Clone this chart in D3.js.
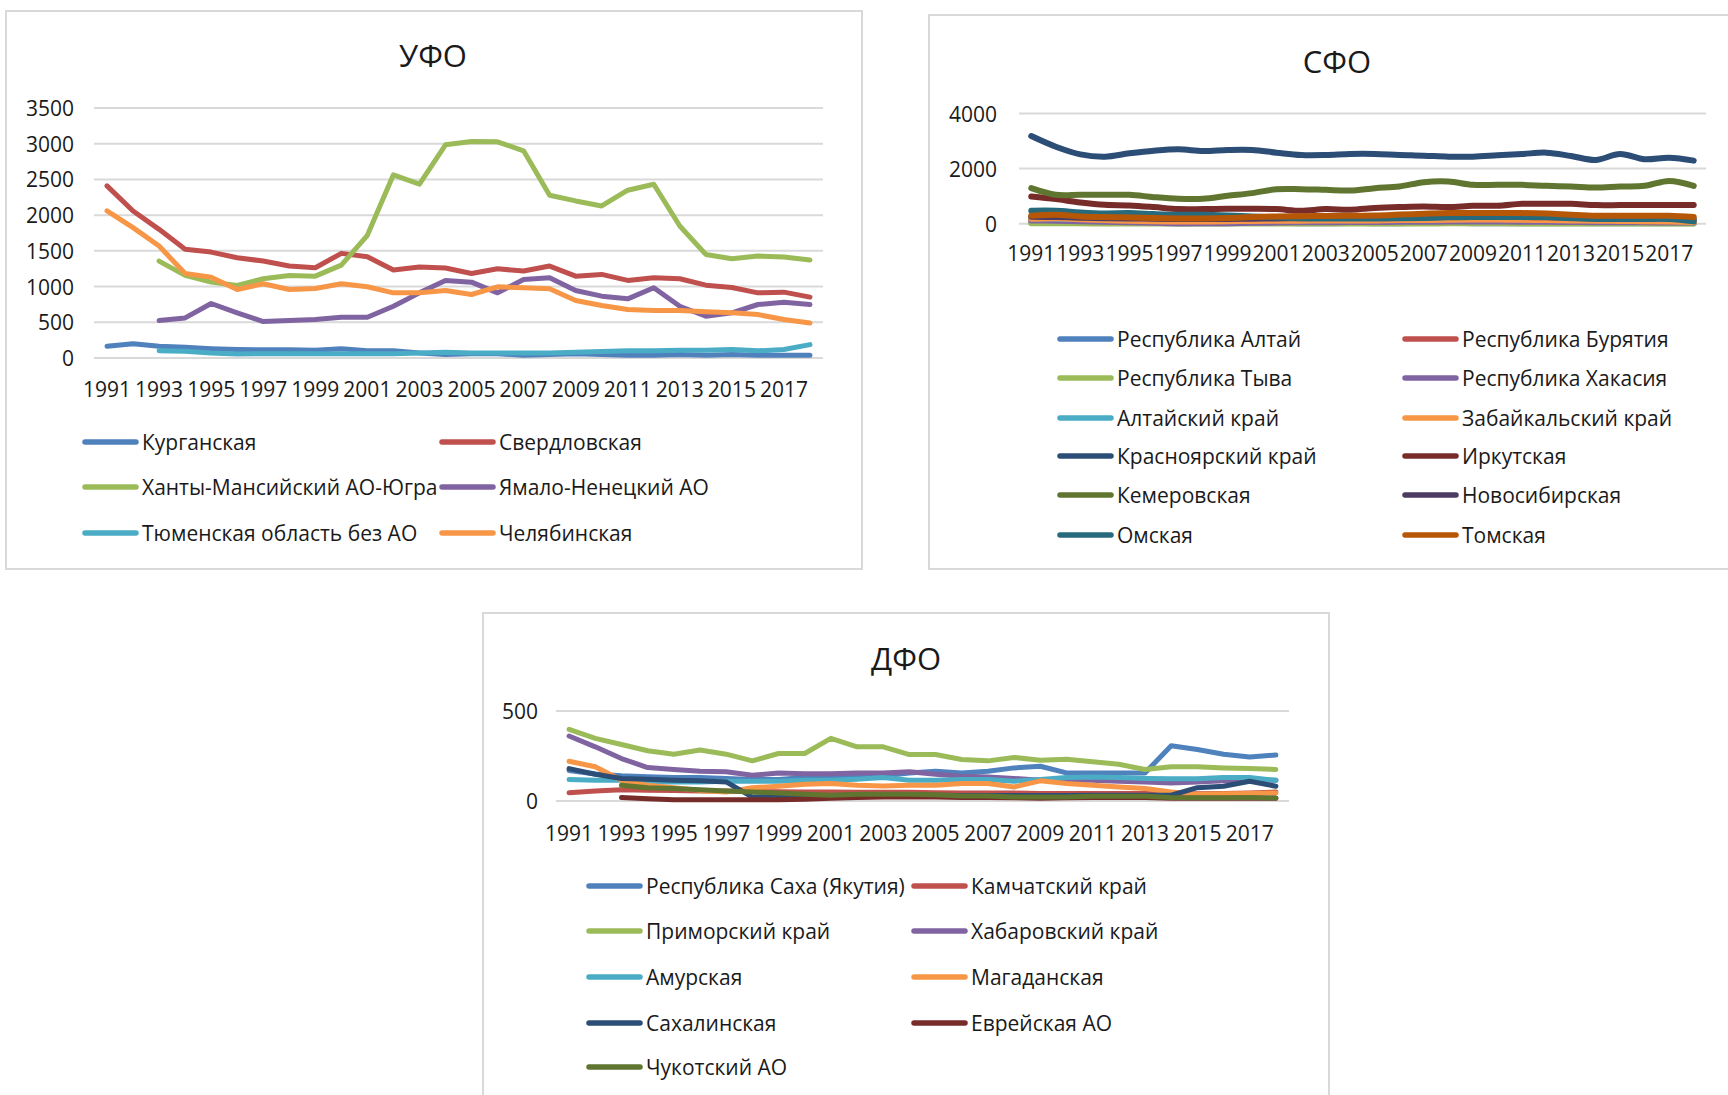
<!DOCTYPE html>
<html>
<head>
<meta charset="utf-8">
<script src="https://cdnjs.cloudflare.com/ajax/libs/d3/7.8.5/d3.min.js"></script>
<style>
  body { margin: 0; background: #fff; }
  svg text { font-family: "Open Sans", sans-serif; fill: #1a1a1a; }
</style>
</head>
<body>
<div id="svg"></div>
<script>
var years = [1991, 1992, 1993, 1994, 1995, 1996, 1997, 1998, 1999, 2000,
    2001, 2002, 2003, 2004, 2005, 2006, 2007, 2008, 2009, 2010,
    2011, 2012, 2013, 2014, 2015, 2016, 2017, 2018];
var yearLabels = [1991, 1993, 1995, 1997, 1999, 2001, 2003, 2005, 2007, 2009, 2011, 2013, 2015, 2017];

// УФО
var ufoKurgan = [164, 201, 164, 150, 131, 120, 115, 115, 110, 131, 100, 100, 70, 50, 60, 60, 40, 50, 60, 50, 40, 40, 50, 40, 50, 40, 40, 40];
var ufoSverdl = [2410, 2059, 1801, 1521, 1483, 1404, 1357, 1287, 1263, 1465, 1418, 1231, 1273, 1259, 1184, 1249, 1217, 1287, 1146, 1170, 1086, 1123, 1109, 1020, 987, 912, 922, 852];
var ufoKhmao = [null, null, 1357, 1156, 1062, 1015, 1109, 1156, 1146, 1300, 1717, 2564, 2433, 2985, 3032, 3027, 2901, 2279, 2199, 2129, 2349, 2433, 1848, 1450, 1390, 1427, 1413, 1371];
var ufoYanao = [null, null, 524, 561, 763, 632, 510, 524, 538, 571, 571, 725, 912, 1086, 1062, 912, 1100, 1123, 945, 866, 828, 983, 725, 585, 632, 749, 781, 749];
var ufoTyumen = [null, null, 103, 94, 70, 56, 60, 60, 60, 60, 60, 60, 70, 80, 70, 70, 70, 70, 80, 90, 100, 100, 110, 110, 120, 100, 120, 187];
var ufoChel = [2059, 1825, 1567, 1184, 1132, 959, 1039, 959, 973, 1039, 997, 912, 912, 945, 889, 997, 983, 969, 805, 735, 678, 664, 664, 646, 632, 608, 538, 491];
var ufoNames = ["Курганская", "Свердловская", "Ханты-Мансийский АО-Югра", "Ямало-Ненецкий АО", "Тюменская область без АО", "Челябинская"];

// СФО
var sfoAltaiRep = [40, 38, 35, 30, 28, 25, 22, 20, 20, 22, 22, 20, 20, 22, 20, 20, 22, 22, 20, 20, 18, 18, 18, 16, 16, 15, 15, 14];
var sfoBuryat = [150, 140, 120, 100, 90, 80, 70, 70, 75, 90, 100, 110, 110, 120, 125, 130, 140, 150, 150, 145, 140, 130, 120, 110, 100, 95, 90, 80];
var sfoTyva = [15, 15, 12, 10, 10, 8, 8, 8, 8, 10, 10, 10, 10, 10, 10, 10, 10, 12, 12, 12, 10, 10, 10, 8, 8, 8, 8, 8];
var sfoKhakas = [120, 110, 90, 70, 50, 30, 10, 15, 20, 30, 40, 50, 50, 60, 60, 70, 70, 80, 80, 80, 75, 70, 60, 55, 50, 50, 45, 40];
var sfoAltaiKrai = [200, 190, 170, 150, 140, 130, 120, 120, 120, 130, 140, 140, 150, 150, 160, 170, 180, 190, 190, 180, 170, 160, 150, 150, 140, 130, 130, 120];
var sfoZabaik = [180, 200, 160, 130, 110, 90, 80, 80, 90, 100, 110, 110, 120, 120, 120, 130, 130, 140, 150, 150, 140, 130, 120, 110, 100, 90, 80, 60];
var sfoKrasn = [3181, 2795, 2518, 2434, 2555, 2651, 2700, 2639, 2675, 2675, 2579, 2494, 2494, 2530, 2530, 2494, 2470, 2434, 2434, 2482, 2530, 2579, 2458, 2314, 2530, 2338, 2398, 2290];
var sfoIrk = [988, 892, 771, 687, 663, 603, 530, 530, 542, 542, 530, 470, 530, 506, 566, 603, 627, 603, 651, 651, 723, 723, 723, 675, 675, 675, 675, 675];
var sfoKemer = [1289, 1048, 1048, 1048, 1048, 964, 904, 904, 1012, 1109, 1253, 1253, 1229, 1205, 1289, 1350, 1506, 1530, 1410, 1410, 1410, 1374, 1350, 1313, 1350, 1374, 1554, 1374];
var sfoNovosib = [250, 240, 220, 200, 190, 180, 170, 170, 170, 180, 190, 200, 210, 220, 230, 240, 250, 260, 260, 250, 240, 230, 220, 210, 200, 200, 190, 170];
var sfoOmsk = [470, 470, 410, 374, 385, 350, 325, 325, 301, 265, 230, 200, 190, 190, 190, 200, 210, 230, 241, 241, 241, 241, 200, 170, 170, 170, 170, 84];
var sfoTomsk = [289, 325, 265, 241, 229, 205, 193, 193, 205, 241, 265, 270, 280, 290, 300, 330, 360, 385, 385, 385, 385, 370, 325, 289, 289, 289, 289, 241];
var sfoNames = ["Республика Алтай", "Республика Бурятия", "Республика Тыва", "Республика Хакасия", "Алтайский край", "Забайкальский край",
    "Красноярский край", "Иркутская", "Кемеровская", "Новосибирская", "Омская", "Томская"];

// ДФО
var dfoSakha = [170, 150, 140, 135, 130, 130, 125, 120, 120, 130, 134, 135, 140, 156, 165, 156, 165, 184, 193, 156, 156, 156, 156, 307, 286, 260, 245, 255];
var dfoKamch = [46, 56, 63, 60, 58, 56, 55, 54, 52, 50, 50, 48, 48, 48, 46, 45, 45, 44, 42, 42, 42, 42, 41, 40, 40, 41, 45, 50];
var dfoPrim = [398, 348, 314, 279, 260, 283, 260, 223, 264, 264, 348, 301, 301, 258, 258, 231, 223, 242, 227, 232, 218, 204, 175, 190, 190, 184, 180, 175];
var dfoKhab = [361, 301, 236, 186, 175, 165, 162, 143, 156, 152, 152, 156, 156, 162, 149, 138, 134, 125, 115, 115, 115, 110, 106, 100, 106, 112, 115, 115];
var dfoAmur = [119, 115, 115, 106, 106, 106, 110, 110, 110, 115, 115, 121, 130, 115, 115, 119, 119, 110, 119, 130, 134, 130, 125, 123, 123, 130, 130, 115];
var dfoMagad = [221, 190, 115, 87, 74, 59, 50, 74, 82, 93, 97, 87, 84, 87, 87, 97, 97, 78, 112, 97, 87, 78, 69, 50, 37, 40, 42, 45];
var dfoSakhalin = [180, 149, 125, 121, 115, 112, 106, 22, 25, 28, 30, 32, 32, 32, 32, 30, 30, 30, 30, 30, 32, 32, 32, 32, 74, 82, 110, 82];
var dfoJewish = [null, null, 19, 13, 7, 7, 7, 7, 7, 10, 15, 20, 22, 22, 22, 20, 20, 18, 15, 18, 20, 20, 20, 15, 15, 15, 15, 15];
var dfoChukot = [null, null, 87, 74, 69, 63, 56, 50, 45, 37, 32, 37, 37, 37, 35, 28, 28, 22, 22, 22, 26, 26, 26, 19, 18, 18, 19, 17];
var dfoNames = ["Республика Саха (Якутия)", "Камчатский край", "Приморский край", "Хабаровский край", "Амурская", "Магаданская",
    "Сахалинская", "Еврейская АО", "Чукотский АО"];

var palette = ["#4f81bd", "#c0504d", "#9bbb59", "#8064a2", "#4bacc6", "#f79646",
    "#2c4d75", "#772c2a", "#5f7530", "#4d3b62", "#276a7c", "#b65708"];

var svg = d3.select("#svg").append("svg")
    .attr("width", 1728).attr("height", 1095);

function drawChart(c) {
    var g = svg.append("g");
    g.append("rect")
        .attr("x", c.box[0]).attr("y", c.box[1])
        .attr("width", c.box[2]).attr("height", c.box[3])
        .attr("fill", "#fff").attr("stroke", "#d9d9d9").attr("stroke-width", 2);
    g.append("text")
        .attr("x", c.title[0]).attr("y", c.title[1])
        .attr("text-anchor", "middle").attr("dominant-baseline", "central")
        .style("font-size", "31px").text(c.name);

    var xScale = d3.scalePoint().domain(years).range([c.plot[0], c.plot[1]]).padding(0.5);
    var yScale = d3.scaleLinear().domain([0, c.yMax]).range([c.plot[3], c.plot[2]]);
    var ticks = d3.range(0, c.yMax + 1, c.yStep);

    g.selectAll(".grid").data(ticks).enter().append("line")
        .attr("x1", c.plot[0]).attr("x2", c.plot[1])
        .attr("y1", function(d) { return yScale(d); })
        .attr("y2", function(d) { return yScale(d); })
        .attr("stroke", "#d9d9d9").attr("stroke-width", 2);
    g.selectAll(".ylab").data(ticks).enter().append("text")
        .attr("x", c.yLabelX)
        .attr("y", function(d) { return yScale(d); })
        .attr("text-anchor", "end").attr("dominant-baseline", "central")
        .style("font-size", "21px").text(function(d) { return d; });
    g.selectAll(".xlab").data(yearLabels).enter().append("text")
        .attr("x", function(d) { return xScale(d); })
        .attr("y", c.xLabelY)
        .attr("text-anchor", "middle").attr("dominant-baseline", "central")
        .style("font-size", "21px").text(function(d) { return d; });

    var line = d3.line()
        .defined(function(d) { return d != null; })
        .x(function(d, i) { return xScale(years[i]); })
        .y(function(d) { return yScale(d); })
        .curve(c.smooth ? d3.curveCatmullRom : d3.curveLinear);

    c.series.forEach(function(s, i) {
        g.append("path").datum(s)
            .attr("d", line)
            .attr("fill", "none")
            .attr("stroke", palette[i])
            .attr("stroke-width", c.lineWidth)
            .attr("stroke-linejoin", "round")
            .attr("stroke-linecap", "round");
    });

    c.names.forEach(function(n, i) {
        var lx = c.legendCols[i % 2], ly = c.legendRows[Math.floor(i / 2)];
        g.append("line")
            .attr("x1", lx + 2).attr("x2", lx + 53)
            .attr("y1", ly).attr("y2", ly)
            .attr("stroke", palette[i]).attr("stroke-width", 5.5)
            .attr("stroke-linecap", "round");
        g.append("text")
            .attr("x", lx + 59).attr("y", ly)
            .attr("dominant-baseline", "central")
            .style("font-size", "21px").text(n);
    });
}

drawChart({
    name: "УФО", box: [6, 11, 856, 558], title: [433, 55],
    plot: [94, 823, 108, 358], yMax: 3500, yStep: 500, yLabelX: 74, xLabelY: 389,
    smooth: false, lineWidth: 5,
    series: [ufoKurgan, ufoSverdl, ufoKhmao, ufoYanao, ufoTyumen, ufoChel], names: ufoNames,
    legendCols: [83, 440], legendRows: [442, 487, 533]
});
drawChart({
    name: "СФО", box: [929, 15, 810, 554], title: [1337, 61],
    plot: [1019, 1706, 113.5, 223.7], yMax: 4000, yStep: 2000, yLabelX: 997, xLabelY: 253,
    smooth: true, lineWidth: 6,
    series: [sfoAltaiRep, sfoBuryat, sfoTyva, sfoKhakas, sfoAltaiKrai, sfoZabaik,
        sfoKrasn, sfoIrk, sfoKemer, sfoNovosib, sfoOmsk, sfoTomsk], names: sfoNames,
    legendCols: [1058, 1403], legendRows: [339, 378, 418, 456, 495, 535]
});
drawChart({
    name: "ДФО", box: [483, 613, 846, 500], title: [906, 658],
    plot: [556, 1289, 711, 801], yMax: 500, yStep: 500, yLabelX: 538, xLabelY: 833,
    smooth: false, lineWidth: 5,
    series: [dfoSakha, dfoKamch, dfoPrim, dfoKhab, dfoAmur, dfoMagad,
        dfoSakhalin, dfoJewish, dfoChukot], names: dfoNames,
    legendCols: [587, 912], legendRows: [886, 931, 977, 1023, 1067]
});
</script>
</body>
</html>
